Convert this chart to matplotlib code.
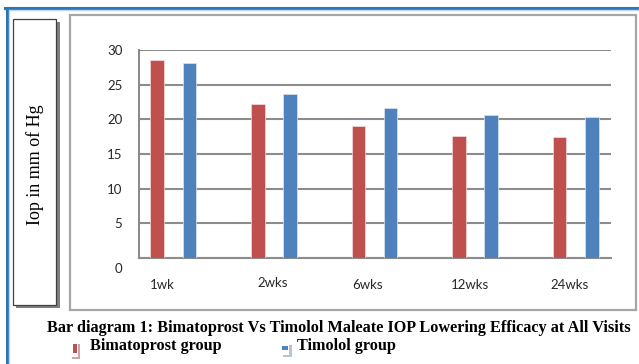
import numpy as np
import matplotlib
matplotlib.use("Agg")
import matplotlib.pyplot as plt
import matplotlib.transforms as mtransforms
from matplotlib.patches import Rectangle
from matplotlib.lines import Line2D

visits = ["1wk", "2wks", "6wks", "12wks", "24wks"]
bimatoprost = [28.6, 22.2, 19.1, 17.6, 17.5]
timolol = [28.1, 23.7, 21.7, 20.6, 20.3]
series_names = ["Bimatoprost group", "Timolol group"]
yticks = [0, 5, 10, 15, 20, 25, 30]

red = "#c0504d"
blue = "#4f81bd"
grid_gray = "#8c8c8c"

W, H = 639, 364
fig = plt.figure(figsize=(W / 100, H / 100), dpi=100)


def px(x, y, w, h):
    # pixel box (top-left origin) -> figure fraction
    return (x / W, 1 - (y + h) / H, w / W, h / H)


def frect(x, y, w, h, **kw):
    fig.patches.append(Rectangle(px(x, y, w, h)[:2], w / W, h / H,
                                 transform=fig.transFigure, zorder=-1, **kw))


# outer blue frame (top and left)
fig.add_artist(Line2D([5 / W, 1], [1 - 7.5 / H] * 2, color="#2e75b6", lw=2.2))
fig.add_artist(Line2D([5 / W, 1], [1 - 10 / H] * 2, color="#bdd7ee", lw=1))
fig.add_artist(Line2D([6.5 / W] * 2, [0, 1 - 7.5 / H], color="#2e75b6", lw=2.2))
fig.add_artist(Line2D([9 / W] * 2, [0, 1 - 10 / H], color="#bdd7ee", lw=1))

# y-label box with shadow
frect(16, 22, 44, 286, facecolor="#7f7f7f", edgecolor="none")
frect(13, 19, 43, 286, facecolor="white", edgecolor="#404040", lw=0.9)
fig.text(35 / W, 1 - 165 / H, "Iop in mm of Hg", rotation=90, ha="center",
         va="center", fontsize=13, family="Liberation Serif")

# chart box
frect(70, 15, 566, 295, facecolor="white", edgecolor="#a6a6a6", lw=1.6)

ax = fig.add_axes(px(139, 50, 472, 208))
ax.set_zorder(2)
ax.patch.set_alpha(0)
x = np.arange(len(visits))
bw = 0.135
off = 0.16
ax.bar(x - off, bimatoprost, bw, color=red, edgecolor="#f2dcdb", lw=0.5, zorder=3)
ax.bar(x + off, timolol, bw, color=blue, edgecolor="#dce6f2", lw=0.5, zorder=3)

ax.set_xlim(-0.34, 4.35)
ax.set_ylim(0, 30)
ax.set_yticks(yticks)
ax.yaxis.grid(True, color=grid_gray, lw=1.5, zorder=0)
for s in ["top", "right"]:
    ax.spines[s].set_visible(False)
for s in ["left", "bottom"]:
    ax.spines[s].set_color(grid_gray)
    ax.spines[s].set_linewidth(1.5)
ax.tick_params(axis="y", length=0, pad=12, labelsize=9.5, labelcolor="#262626")
for lab in ax.get_yticklabels():
    lab.set_family("Lato")
# the "0" label sits a little below its gridline in the original
zero = ax.get_yticklabels()[0]
zero.set_transform(zero.get_transform() +
                   mtransforms.ScaledTranslation(0, -10 / 100, fig.dpi_scale_trans))

label_shift = [-0.11, -0.01, -0.07, -0.05, -0.06]
ax.set_xticks(x + np.array(label_shift))
ax.set_xticklabels(visits, family="Lato", fontsize=9.5, color="#262626")
ax.tick_params(axis="x", length=0, pad=15)
ax.get_xticklabels()[1].set_transform(
    ax.get_xticklabels()[1].get_transform() +
    mtransforms.ScaledTranslation(0, 2 / 100, fig.dpi_scale_trans))

# caption
fig.text(339 / W, 1 - 328 / H,
         "Bar diagram 1: Bimatoprost Vs Timolol Maleate IOP Lowering Efficacy at All Visits",
         ha="center", va="center", fontsize=11.7, fontweight="bold",
         family="Liberation Serif")

# legend keys
frect(72, 344, 8, 15, facecolor="#c9a9a8", edgecolor="none")
frect(70, 342, 8, 15, facecolor="white", edgecolor="none")
frect(73, 344, 3.5, 9, facecolor=red, edgecolor="none")
fig.text(90 / W, 1 - 346 / H, series_names[0], ha="left", va="center",
         fontsize=11.7, fontweight="bold", family="Liberation Serif")

frect(283, 345, 9, 12, facecolor="#b7c4d6", edgecolor="none")
frect(280, 343, 9, 12, facecolor="white", edgecolor="none")
frect(282, 346, 6, 4, facecolor=blue, edgecolor="none")
fig.text(297 / W, 1 - 346 / H, series_names[1], ha="left", va="center",
         fontsize=11.7, fontweight="bold", family="Liberation Serif")

fig.savefig("out.png", dpi=100)
